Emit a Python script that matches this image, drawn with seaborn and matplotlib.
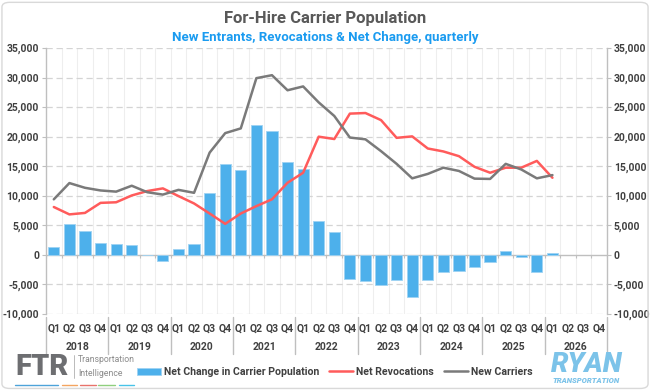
import numpy as np
import pandas as pd
import matplotlib.pyplot as plt
import matplotlib.transforms as mtransforms
import seaborn as sns
from matplotlib.lines import Line2D
from matplotlib.patches import FancyBboxPatch

# Data (quarterly, Q1 2018 .. Q1 2026)
years = [2018, 2019, 2020, 2021, 2022, 2023, 2024, 2025, 2026]
quarters = ['Q1', 'Q2', 'Q3', 'Q4']
net_change = [1400, 5200, 4100, 2000, 1900, 1600, -100, -1000,
              1000, 1800, 10500, 15300, 14400, 21900, 20900, 15700,
              14500, 5700, 3800, -4100, -4400, -5100, -4300, -7100,
              -4300, -2850, -2650, -2100, -1200, 600, -400, -2850,
              350]
revocations = [8100, 6850, 7100, 8800, 8900, 10050, 10800, 11250,
               9950, 8700, 7000, 5250, 7000, 8250, 9400, 12200,
               13900, 20000, 19600, 23900, 24000, 22800, 19800, 20050,
               18000, 17500, 16700, 14900, 13900, 14750, 14750, 15900,
               13050]
new_carriers = [9400, 12150, 11350, 10900, 10700, 11700, 10600, 10200,
                11000, 10500, 17300, 20600, 21400, 29900, 30400, 27850,
                28500, 25800, 23500, 19850, 19550, 17550, 15400, 12950,
                13700, 14750, 14200, 12900, 12850, 15400, 14450, 12950,
                13500]

all_labels = [f'{y} {q}' for y in years for q in quarters]
n = len(net_change)
df = pd.DataFrame({'quarter': all_labels[:n], 'net': net_change,
                   'pos': np.arange(n), 'revoc': revocations,
                   'new': new_carriers})

blue = '#4DB0EB'
red = '#FF5B5B'
grey = '#7A7A7A'
txt = '#404040'

sns.set_theme(style='white')
plt.rcParams['font.family'] = ['Roboto', 'DejaVu Sans']
plt.rcParams['font.weight'] = 'bold'

fig = plt.figure(figsize=(6.5, 3.9), dpi=100)
ax = fig.add_axes([0.0708, 0.1949, 0.863, 0.682])

sns.barplot(data=df, x='quarter', y='net', order=all_labels, color=blue,
            saturation=1, width=0.72, edgecolor='#9fd3f3', linewidth=0.6,
            label='Net Change in Carrier Population', ax=ax, zorder=3)
sns.lineplot(data=df, x='pos', y='revoc', color=red, linewidth=1.8,
             label='Net Revocations', ax=ax, zorder=4)
sns.lineplot(data=df, x='pos', y='new', color=grey, linewidth=1.8,
             label='New Carriers', ax=ax, zorder=5)

ax.set_xlim(-0.5, len(all_labels) - 0.5)
ax.set_ylim(-10000, 35000)
yt = np.arange(-10000, 35001, 5000)
ax.set_yticks(yt)
ax.set_yticklabels([f'{v:,}' for v in yt])
for v in yt:
    if v != 0:
        ax.axhline(v, color='#d4d4d4', ls=(0, (5, 3)), lw=0.9, zorder=1)
ax.axhline(0, color='#bfbfbf', lw=1.0, zorder=2)
for b in np.arange(0.5, len(all_labels) - 0.5, 1):
    ax.axvline(b, color='#eeeeee', lw=0.8, zorder=0)
ax.vlines(np.arange(-0.5, len(all_labels), 1), -600, 0, color='#bfbfbf',
          lw=0.8, zorder=2)

ax.set_xticks(range(len(all_labels)))
ax.set_xticklabels(quarters * len(years))
ax.set_xlabel('')
ax.set_ylabel('')
ax.tick_params(axis='x', length=0, pad=7, labelsize=7.5, labelcolor=txt)
ax.tick_params(axis='y', left=True, right=True, labelleft=True,
               labelright=True, length=3, width=0.8, color='#bfbfbf',
               labelsize=7.5, labelcolor=txt, pad=2)
for s in ['top', 'bottom']:
    ax.spines[s].set_visible(False)
for s in ['left', 'right']:
    ax.spines[s].set_color('#bfbfbf')
    ax.spines[s].set_linewidth(1.0)

# year level of the category axis
trans = mtransforms.blended_transform_factory(ax.transData, ax.transAxes)
for i, y in enumerate(years):
    ax.text(i * 4 + 1.5, -0.124, str(y), transform=trans, ha='center',
            va='center', fontsize=7.5, color=txt)
for b in np.arange(-0.5, len(all_labels), 4):
    ax.add_line(Line2D([b, b], [-0.01, -0.15], transform=trans,
                       color='#bfbfbf', lw=1.0, clip_on=False))

# legend, bars first like the original
handles, labels = ax.get_legend_handles_labels()
if ax.get_legend() is not None:
    ax.get_legend().remove()
wanted = ['Net Change in Carrier Population', 'Net Revocations', 'New Carriers']
order = [labels.index(w) for w in wanted]
fig.legend([handles[i] for i in order], [labels[i] for i in order],
           loc='center', bbox_to_anchor=(0.515, 0.046),
           ncol=3, frameon=False, fontsize=7.6, handlelength=2.3,
           columnspacing=0.9, handletextpad=0.3, labelcolor=txt)

# titles
fig.text(0.5, 0.953, 'For-Hire Carrier Population', ha='center',
         va='center', fontsize=12, color='#595959')
fig.text(0.5, 0.905, 'New Entrants, Revocations & Net Change, quarterly',
         ha='center', va='center', fontsize=9.5, color='#1A9BF0')

# logos as text
fig.text(0.023, 0.06, 'FTR', fontsize=21, weight='heavy', color='#6d6e71',
         va='center', ha='left')
fig.add_artist(Line2D([0.114, 0.114], [0.03, 0.09], color='#b0b0b0', lw=0.6))
fig.text(0.120, 0.077, 'Transportation', fontsize=6.2, weight='normal',
         color='#8a8a8a', va='center')
fig.text(0.120, 0.043, 'Intelligence', fontsize=6.2, weight='normal',
         color='#8a8a8a', va='center')
for x0, x1, c in [(15, 58, '#4da3d9'), (62, 77, '#f4a460'),
                  (80, 96, '#e8736b'), (98, 115, '#8fcf7e'),
                  (119, 134, '#48c3e8')]:
    fig.add_artist(Line2D([x0 / 650, x1 / 650], [0.014, 0.014], color=c, lw=1))
fig.text(0.902, 0.066, 'RYAN', fontsize=20, style='italic', weight='heavy',
         color='#7cc3e9', ha='center', va='center')
fig.text(0.902, 0.025, 'TRANSPORTATION', fontsize=5.6, style='italic',
         weight='heavy', color='#7cc3e9', ha='center', va='center')

fig.patches.append(FancyBboxPatch((0.003, 0.004), 0.994, 0.99,
                                  boxstyle='round,pad=0,rounding_size=0.012',
                                  transform=fig.transFigure, fc='none',
                                  ec='#d9d9d9', lw=1.0))

fig.savefig('out.png', dpi=100)
